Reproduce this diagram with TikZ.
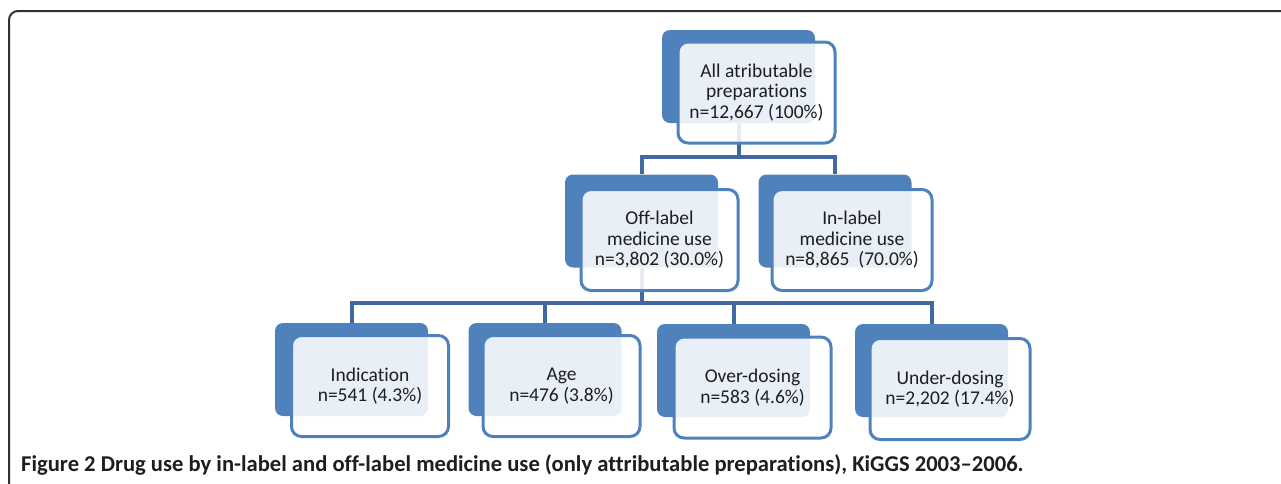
\documentclass[tikz,border=0pt]{standalone}
\usepackage{fontspec}
\setmainfont{Carlito}[Ligatures=NoCommon]
\definecolor{boxblue}{RGB}{79,129,189}
\definecolor{connblue}{RGB}{65,105,160}
\definecolor{frame}{RGB}{50,50,50}
\definecolor{txt}{RGB}{30,30,30}
\tikzset{
  backbox/.style={fill=boxblue, rounded corners=8pt, minimum width=153pt, minimum height=93pt, inner sep=0pt},
  frontbox/.style={draw=boxblue, line width=3pt, fill=white, fill opacity=0.88, text opacity=1, rounded corners=10pt,
     minimum width=157pt, minimum height=101pt, inner sep=0pt, align=center, text=txt,
     font=\fontsize{19.5}{20.5}\selectfont},
  conn/.style={draw=connblue, line width=4pt},
}
\begin{document}
\begin{tikzpicture}[x=1pt,y=-1pt]
\useasboundingbox (0,0) rectangle (1281,483);
\clip (0,0) rectangle (1281,483);
\draw[frame, line width=2pt, rounded corners=9pt] (9,11) rectangle (1320,520);
% back boxes
\node[backbox] (topback) at (738.5,76.5) {};
\node[backbox] (offback) at (641.5,221) {};
\node[backbox] (inback) at (835,221) {};
\node[backbox] (indback) at (351.5,369.5) {};
\node[backbox] (ageback) at (545,369.5) {};
\node[backbox] (overback) at (733.5,370.5) {};
\node[backbox] (underback) at (931.5,370.5) {};
% connectors
\coordinate (j1) at (738.5,157);
\coordinate (j2) at (641.5,303);
\draw[conn] (topback.south) -- (j1);
\draw[conn] (offback.north) |- (j1) -| (inback.north);
\draw[conn] (offback.south) -- (j2);
\draw[conn] (indback.north) |- (j2) -| (underback.north);
\draw[conn] (ageback.north) -- (ageback.north |- j2);
\draw[conn] (overback.north) -- (overback.north |- j2);
% front boxes
\node[frontbox] (top) at (756.5,92.5) {All atributable\\preparations\\n=12,667 (100\%)};
\node[frontbox] (off) at (659.5,240) {Off-label\\medicine use\\n=3,802 (30.0\%)};
\node[frontbox, minimum width=160pt] (in) at (852,240) {In-label\\medicine use\\n=8,865~ (70.0\%)};
\node[frontbox] (ind) at (370,386) {Indication\\n=541 (4.3\%)};
\node[frontbox] (age) at (561.5,386) {Age\\n=476 (3.8\%)};
\node[frontbox] (over) at (752.5,387.5) {Over-dosing\\n=583 (4.6\%)};
\node[frontbox, minimum width=160pt] (under) at (950,389) {Under-dosing\\n=2,202 (17.4\%)};
% caption
\node[anchor=base west, inner sep=0pt, text=txt, font=\bfseries\fontsize{22.6}{26}\selectfont] (cap) at (21,471)
  {Figure 2 Drug use by in-label and off-label medicine use (only attributable preparations), KiGGS 2003–2006.};
\end{tikzpicture}
\end{document}
